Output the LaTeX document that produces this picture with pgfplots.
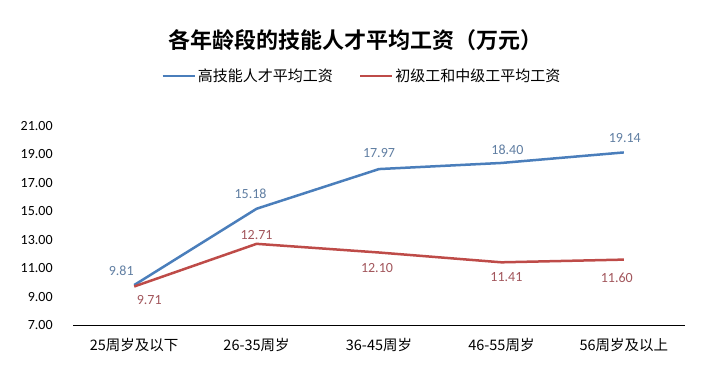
\documentclass[border=0pt]{standalone}
\usepackage{graphicx}
\usepackage{fontspec}
\setmainfont{Carlito}
\newfontfamily\cjk{Noto Sans CJK SC}
\newfontfamily\cjkb{Noto Sans CJK SC Bold}
\usepackage{pgfplots}
\usepackage{pgfplotstable}
\pgfplotsset{compat=1.18}
\definecolor{bl}{RGB}{74,126,187}
\definecolor{rd}{RGB}{190,75,72}
\definecolor{bllab}{RGB}{96,126,162}
\definecolor{rdlab}{RGB}{162,86,92}
\pgfplotstableread{
x y lx ly
0 9.81 -13 14
1 15.18 -6 15
2 17.97 0 16
3 18.40 6 13
4 19.14 1 14
}\bluedata
\pgfplotstableread{
x y lx ly
0 9.71 15 -14
1 12.71 0 9
2 12.10 -2 -16
3 11.41 5 -15
4 11.60 -7 -18
}\reddata
\begin{document}
\begin{tikzpicture}
\path[use as bounding box] (0,0) rectangle (704pt,383pt);
\node[font=\cjkb\fontsize{22}{22}\selectfont] at (355pt,343pt) {各年龄段的技能人才平均工资（万元）};
\begin{axis}[
  at={(73pt,58pt)}, anchor=south west,
  scale only axis, width=612pt, height=199pt,
  xmin=-0.5, xmax=4.5, ymin=7, ymax=21,
  axis x line=bottom, axis y line=left,
  x axis line style={-, black, line width=0.8pt},
  y axis line style={draw=none},
  tick style={draw=none},
  xtick={0,1,2,3,4},
  xticklabels={25周岁及以下,26-35周岁,36-45周岁,46-55周岁,56周岁及以上},
  xticklabel style={font=\cjk\fontsize{14.5}{14.5}\selectfont, anchor=center, yshift=-18pt},
  ytick={7,9,...,21},
  yticklabel style={font=\fontsize{14}{14}\selectfont, anchor=east, inner sep=0pt, xshift=-18pt,
    /pgf/number format/.cd, fixed, fixed zerofill, precision=2},
  /pgf/number format/assume math mode=true,
  clip=false,
  legend columns=2,
  legend style={at={(0.472,1.251)}, anchor=center, draw=none, fill=none,
    font=\cjk\fontsize{15}{15}\selectfont, /tikz/every even column/.append style={column sep=24pt},
    /tikz/every odd column/.append style={column sep=0pt}},
  legend image code/.code={\draw[#1, line width=2.5pt] (-2pt,0pt) -- (30pt,0pt);},
]
\addplot[bl, line width=2.5pt, mark=none,
  visualization depends on={\thisrow{lx} \as \lx},
  visualization depends on={\thisrow{ly} \as \ly},
  nodes near coords={\pgfmathprintnumber[fixed,fixed zerofill,precision=2,assume math mode=true]{\pgfplotspointmeta}},
  every node near coord/.append style={anchor=center, xshift=\lx pt, yshift=\ly pt, font=\fontsize{14}{14}\selectfont, text=bllab}] table[x=x,y=y] {\bluedata};
\addlegendentry{高技能人才平均工资}
\addplot[rd, line width=2.5pt, mark=none,
  visualization depends on={\thisrow{lx} \as \lx},
  visualization depends on={\thisrow{ly} \as \ly},
  nodes near coords={\pgfmathprintnumber[fixed,fixed zerofill,precision=2,assume math mode=true]{\pgfplotspointmeta}},
  every node near coord/.append style={anchor=center, xshift=\lx pt, yshift=\ly pt, font=\fontsize{14}{14}\selectfont, text=rdlab}] table[x=x,y=y] {\reddata};
\addlegendentry{初级工和中级工平均工资}
\end{axis}
\end{tikzpicture}
\end{document}
